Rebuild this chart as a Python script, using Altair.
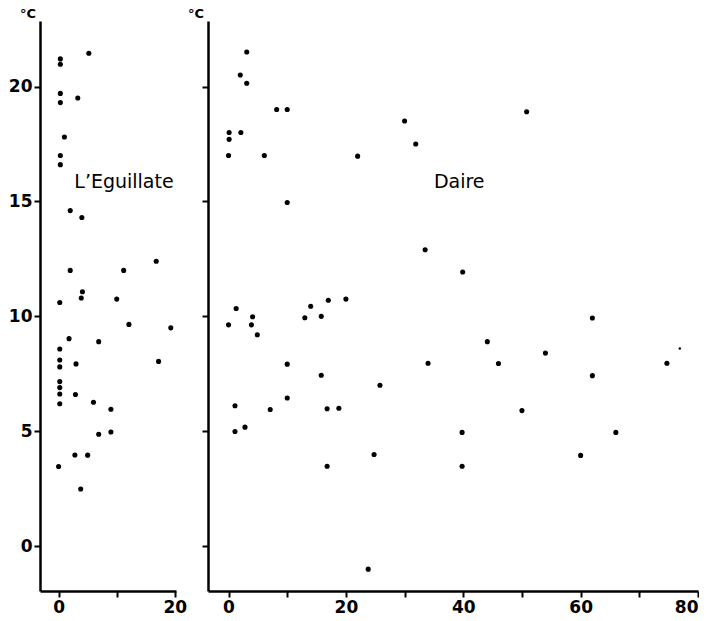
import altair as alt
import pandas as pd

# L'Eguillate panel
eg_x = [5.2, 0.3, 0.3, 0.3, 0.3, 3.3, 1.0, 0.3, 0.3, 2.0, 4.0, 16.8, 2.0, 11.2, 4.1, 3.9, 10.0, 0.2,
        12.1, 19.3, 1.8, 6.9, 0.2, 0.2, 0.2, 3.0, 17.2, 0.2, 0.2, 0.2, 2.9, 0.2, 6.0, 9.0, 9.0, 6.9,
        2.8, 5.0, 0.0, 3.8]
eg_y = [21.45, 21.2, 20.97, 19.7, 19.3, 19.5, 17.8, 17.0, 16.6, 14.6, 14.3, 12.4, 12.0, 12.0, 11.07,
        10.8, 10.75, 10.6, 9.65, 9.5, 9.03, 8.9, 8.58, 8.1, 7.8, 7.93, 8.04, 7.16, 6.9, 6.62, 6.6,
        6.2, 6.26, 5.96, 4.97, 4.87, 3.97, 3.96, 3.47, 2.49]

# Daire panel
da_x = [3.1, 2.0, 3.1, 8.2, 10.0, 30.0, 31.9, 0.1, 0.1, 2.1, 0.0, 6.1, 22.0, 10.0, 33.5, 50.8, 39.9,
        1.3, 0.0, 4.1, 3.9, 4.9, 14.0, 17.0, 20.0, 13.0, 15.8, 10.0, 15.8, 25.8, 34.0, 1.1, 7.1, 10.0,
        16.8, 18.8, 1.1, 2.8, 24.8, 16.8, 23.8,
        62.0, 44.1, 54.0, 46.0, 74.7, 62.0, 50.0, 39.8, 66.0, 60.0, 39.8]
da_y = [21.5, 20.5, 20.14, 19.0, 19.0, 18.5, 17.5, 18.0, 17.7, 18.0, 17.0, 17.0, 16.97, 14.95, 12.9,
        18.9, 11.93, 10.34, 9.63, 9.98, 9.63, 9.2, 10.44, 10.7, 10.75, 9.94, 10.0, 7.92, 7.44, 7.0,
        7.96, 6.11, 5.95, 6.45, 5.98, 6.0, 4.99, 5.18, 3.99, 3.48, -1.0,
        9.93, 8.9, 8.4, 7.95, 7.96, 7.42, 5.9, 4.95, 4.95, 3.95, 3.48]
da_small_x = [76.9]
da_small_y = [8.6]

y_ticks = [0, 5, 10, 15, 20]
eg_x_ticks = [0, 10, 20]
da_x_ticks = [0, 10, 20, 30, 40, 50, 60, 70, 80]
unit = "°C"
eg_name = "L\u2019Eguillate"
da_name = "Daire"

FONT = "DejaVu Sans"
Y_DOMAIN = [-1.95, 22.85]
H = 570

eg_df = pd.DataFrame({"x": eg_x, "y": eg_y})
da_df = pd.DataFrame({"x": da_x, "y": da_y})
da_small_df = pd.DataFrame({"x": da_small_x, "y": da_small_y})

label_expr = "datum.value % 20 == 0 ? datum.label : ''"


def panel(df, x_domain, x_ticks, width, name, name_x, show_ylabels, small=None):
    xs = alt.Scale(domain=x_domain, nice=False, zero=False)
    ys = alt.Scale(domain=Y_DOMAIN, nice=False, zero=False)
    xax = alt.Axis(values=x_ticks, labelExpr=label_expr, title=None, grid=False)
    yax = alt.Axis(values=y_ticks, title=None, grid=False, labels=show_ylabels)
    pts = alt.Chart(df).mark_circle(size=26, color="black", opacity=1).encode(
        x=alt.X("x:Q", scale=xs, axis=xax),
        y=alt.Y("y:Q", scale=ys, axis=yax),
    )
    layers = [pts]
    if small is not None:
        layers.append(alt.Chart(small).mark_circle(size=6, color="black", opacity=1).encode(
            x=alt.X("x:Q", scale=xs), y=alt.Y("y:Q", scale=ys)))
    lab = alt.Chart(pd.DataFrame({"t": [name], "x": [name_x], "y": [15.85]})).mark_text(
        font=FONT, fontSize=19, align="left", baseline="middle", color="black"
    ).encode(x=alt.X("x:Q", scale=xs), y=alt.Y("y:Q", scale=ys), text="t:N")
    unit_t = alt.Chart(pd.DataFrame({"t": [unit]})).mark_text(
        font=FONT, fontSize=13, fontWeight="bold", align="right", baseline="middle", color="black"
    ).encode(x=alt.value(-4), y=alt.value(-7), text="t:N")
    layers += [lab, unit_t]
    return alt.layer(*layers).properties(width=width, height=H)


left = panel(eg_df, [-3.2, 20.2], eg_x_ticks, 136, eg_name, 2.7, True)
right = panel(da_df, [-3.5, 80.0], da_x_ticks, 490, da_name, 35.0, False, small=da_small_df)

chart = alt.hconcat(left, right, spacing=0).properties(
    padding={"left": 8, "top": 8, "right": 0, "bottom": 0},
    background="white",
).configure_view(stroke=None).configure_axis(
    domainColor="black", domainWidth=2.5, tickColor="black", tickWidth=2, tickSize=6,
    labelFont=FONT, labelFontSize=17, labelFontWeight="bold", labelColor="black", labelPadding=2,
)

chart.save("out.html", embed_options={"renderer": "svg", "actions": False})
